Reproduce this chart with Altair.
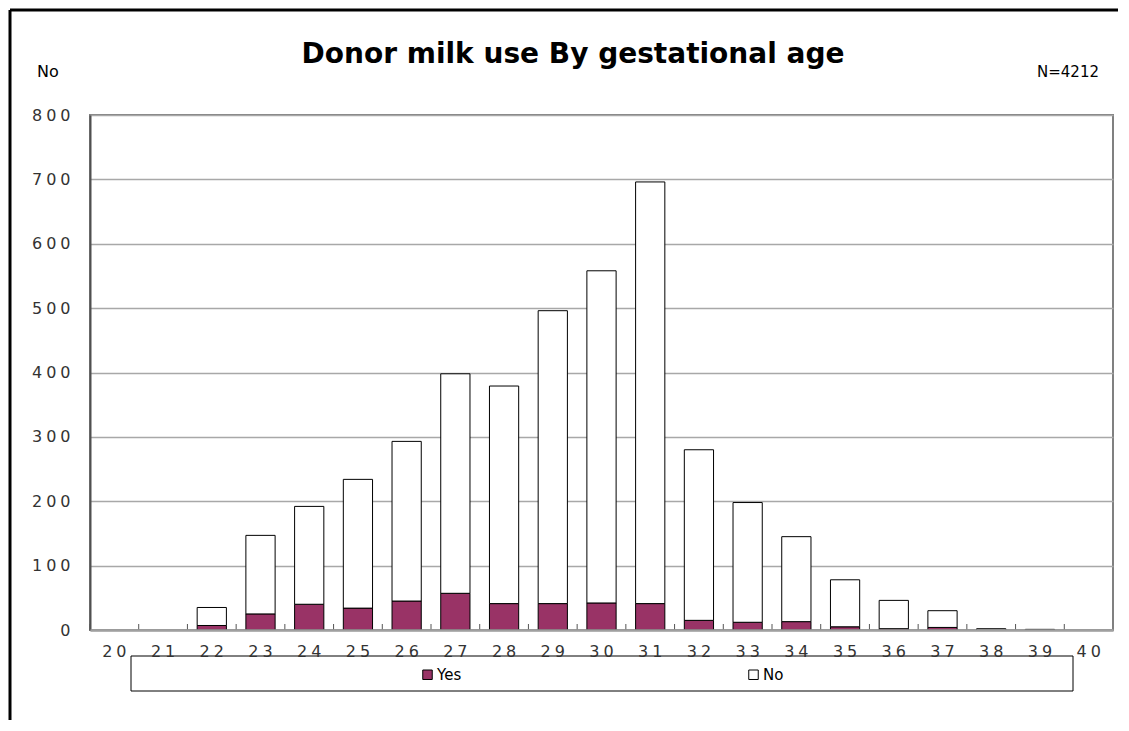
import altair as alt
import pandas as pd

# ---- data ----
ages = list(range(20, 41))
yes_counts = [0, 0, 7, 25, 40, 34, 45, 57, 41, 41, 42, 41, 15, 12, 13, 5, 2, 4, 0, 0, 0]
no_counts = [0, 0, 28, 122, 152, 200, 248, 341, 338, 455, 516, 655, 265, 186, 132, 73, 44, 26, 2, 1, 0]
statuses = ["Yes", "No"]
colors = ["#993366", "#ffffff"]
y_ticks = list(range(0, 801, 100))
title_text = "Donor milk use By gestational age"
n_text = "N=4212"
y_unit = "No"

rows = []
for a, yv, nv in zip(ages, yes_counts, no_counts):
    rows.append({"age": a, "status": "Yes", "count": yv, "ord": 0})
    rows.append({"age": a, "status": "No", "count": nv, "ord": 1})
df = pd.DataFrame(rows)
tick_df = pd.DataFrame({"age": ages})
one = pd.DataFrame({"a": [0]})

W, H = 1023, 515
P_IN, P_OUT = 0.4, 0.2
step = W / (len(ages) - P_IN + 2 * P_OUT)
SP = "\u2005"
lab_expr = "join(split(datum.label, ''), '" + SP + "')"

xscale = alt.Scale(domain=ages, paddingInner=P_IN, paddingOuter=P_OUT)

bars = alt.Chart(df).transform_filter("datum.count > 0").mark_bar(
    stroke="black", strokeWidth=1
).encode(
    x=alt.X("age:O", scale=xscale, axis=alt.Axis(
        title=None, labelAngle=0, tickSize=0, labelPadding=13,
        labelFont="DejaVu Sans", labelFontSize=16, labelColor="#333",
        labelExpr=lab_expr, domainColor="#a0a0a0", domainWidth=2.5,
        grid=False, zindex=1)),
    y=alt.Y("count:Q", stack="zero",
            scale=alt.Scale(domain=[0, 800], nice=False),
            axis=alt.Axis(values=y_ticks, title=None, tickSize=0, labelPadding=20,
                          labelFont="DejaVu Sans", labelFontSize=16, labelColor="#333",
                          labelExpr=lab_expr, grid=True, gridColor="#a8a8a8",
                          gridWidth=1.5, domainColor="#505050", domainWidth=2)),
    color=alt.Color("status:N",
                    scale=alt.Scale(domain=statuses, range=colors),
                    legend=alt.Legend(title=None, orient="none", legendX=330, legendY=552,
                                      direction="horizontal", symbolType="square",
                                      symbolSize=90, symbolStrokeColor="black",
                                      symbolStrokeWidth=1, labelFont="DejaVu Sans",
                                      labelFontSize=15, labelColor="#000",
                                      columnPadding=284, padding=0, labelOffset=2)),
    order=alt.Order("ord:Q", sort="ascending"),
)

ticks = alt.Chart(tick_df).mark_rule(color="#555", strokeWidth=1, xOffset=-step / 2).encode(
    x=alt.X("age:O", scale=xscale),
    y=alt.value(H - 6), y2=alt.value(H),
)

legend_box = alt.Chart(one).mark_rect(fill="white", stroke="black", strokeWidth=1).encode(
    x=alt.value(41), x2=alt.value(983), y=alt.value(541), y2=alt.value(576)
)

frame_left = alt.Chart(one).mark_rule(color="black", strokeWidth=3).encode(
    x=alt.value(-80), y=alt.value(-105), y2=alt.value(605)
)
frame_top = alt.Chart(one).mark_rule(color="black", strokeWidth=3).encode(
    x=alt.value(-80), x2=alt.value(1028), y=alt.value(-105)
)

title = alt.Chart(one).mark_text(
    text=title_text, font="DejaVu Sans", fontSize=28, fontWeight="bold",
    align="center", baseline="alphabetic", color="#000"
).encode(x=alt.value(483), y=alt.value(-52))

n_label = alt.Chart(one).mark_text(
    text=n_text, font="DejaVu Sans", fontSize=15, align="right",
    baseline="alphabetic", color="#000"
).encode(x=alt.value(1009), y=alt.value(-38))

unit_label = alt.Chart(one).mark_text(
    text=y_unit, font="DejaVu Sans", fontSize=16, align="left",
    baseline="alphabetic", color="#000"
).encode(x=alt.value(-53), y=alt.value(-38))

chart = alt.layer(
    legend_box, frame_left, frame_top, bars, ticks, title, n_label, unit_label
).properties(width=W, height=H, padding=0, background="white").configure_view(
    stroke="#808080", strokeWidth=2
)

chart.save("out.html", embed_options={"renderer": "svg", "actions": False})
